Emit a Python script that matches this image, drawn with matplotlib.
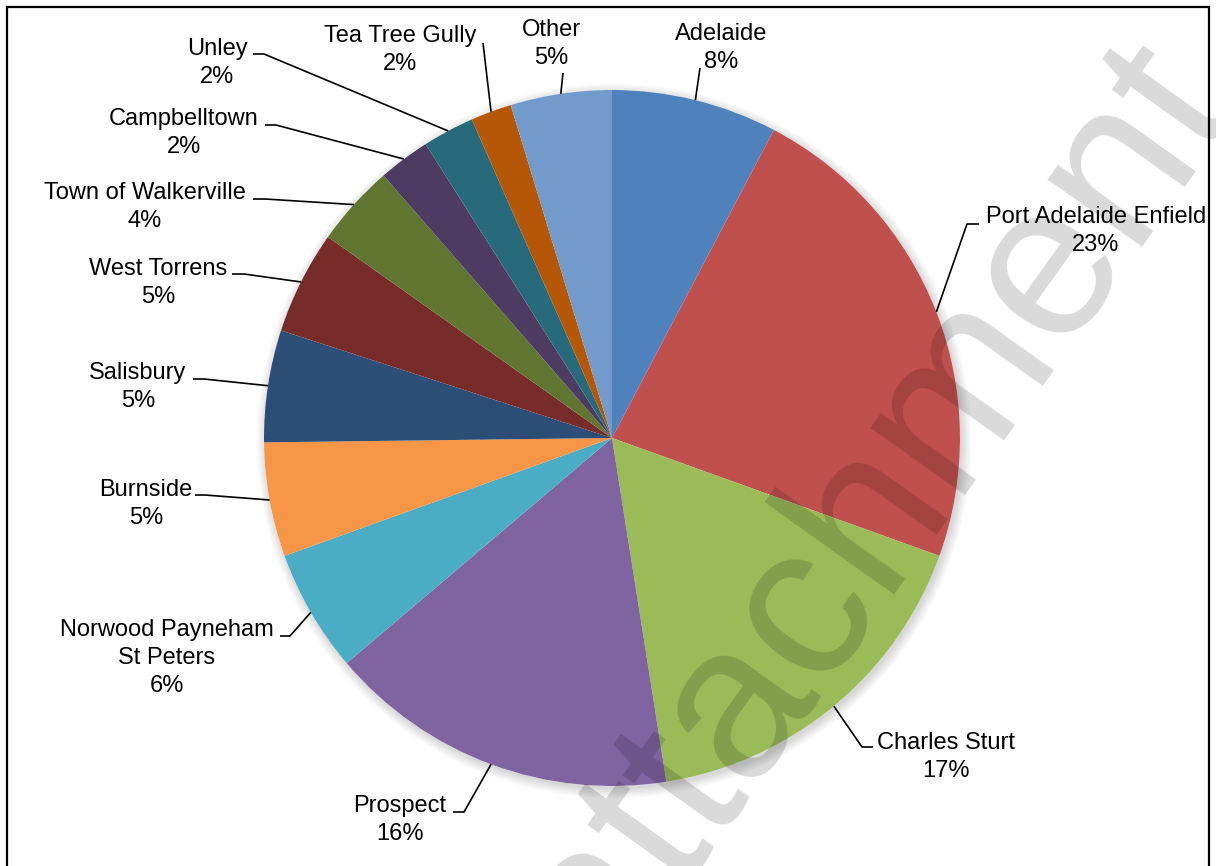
import numpy as np
import matplotlib
matplotlib.use("Agg")
import matplotlib.pyplot as plt
from matplotlib.patches import Circle, Rectangle

plt.rcParams['font.family'] = ['Liberation Sans', 'DejaVu Sans']

# share of records by council area (%)
councils = ['Adelaide', 'Port Adelaide Enfield', 'Charles Sturt', 'Prospect',
            'Norwood Payneham\nSt Peters', 'Burnside', 'Salisbury', 'West Torrens',
            'Town of Walkerville', 'Campbelltown', 'Unley', 'Tea Tree Gully', 'Other']
shares = [7.7, 22.8, 17.0, 16.3, 5.7, 5.3, 5.2, 4.8, 3.8, 2.4, 2.4, 1.9, 4.7]
colors = ['#4F81BD', '#C0504D', '#9BBB59', '#8064A2', '#4BACC6', '#F79646',
          '#2C4D75', '#772C2A', '#5F7530', '#4D3B62', '#276A7C', '#B65708', '#729ACA']

W, H = 1216, 866
cx, cy, r = 612, H - 438, 348

# label centre and leader elbow (pixel coords, y measured from the top)
label_pos = [(721, 48), (1096, 231), (946, 757), (400, 820), (167, 658), (146, 504),
             (138, 387), (158, 283), (145, 207), (184, 133), (217, 63), (400, 50), (551, 44)]
elbows = [[(700, 68)],
          [(979, 224), (967, 224)],
          [(873, 747), (862, 747)],
          [(453, 812), (464, 812)],
          [(280, 636), (290, 636)],
          [(195, 495), (205, 495)],
          [(193, 379), (204, 379)],
          [(232, 274), (244, 274)],
          [(253, 199), (265, 199)],
          [(265, 125), (276, 125)],
          [(253, 54), (264, 54)],
          [(483, 43)],
          [(563, 73)]]

fig = plt.figure(figsize=(12.16, 8.66), dpi=100)
ax = fig.add_axes([0, 0, 1, 1])

# soft shadow under the pie
for i in range(8):
    ax.add_patch(Circle((cx + 2, cy - 3), r + i * 1.3, color='black',
                        alpha=0.02, lw=0, zorder=1))
ax.add_patch(Circle((cx, cy), r, color='white', lw=0, zorder=1.5))

wedges, _ = ax.pie(shares, colors=colors, startangle=90, counterclock=False,
                   center=(cx, cy), radius=r, frame=True,
                   wedgeprops=dict(linewidth=0))
for w in wedges:
    w.set_zorder(2)
ax.set_xlim(0, W)
ax.set_ylim(0, H)
ax.set_aspect('equal')
ax.axis('off')

for w, name, val, (tx, ty), elb in zip(wedges, councils, shares, label_pos, elbows):
    mid = np.deg2rad((w.theta1 + w.theta2) / 2)
    ex, ey = cx + r * np.cos(mid), cy + r * np.sin(mid)
    xs = [p[0] for p in elb] + [ex]
    ys = [H - p[1] for p in elb] + [ey]
    ax.plot(xs, ys, color='black', lw=1.2, zorder=3, solid_capstyle='butt')
    ax.text(tx, H - ty, f"{name}\n{round(val)}%", ha='center', va='center',
            multialignment='center', fontsize=17, linespacing=1.34, zorder=4)

# watermark
ax.text(875, H - 511, 'attachment', fontsize=158, rotation=54.5, color='black',
        alpha=0.15, ha='center', va='center', rotation_mode='anchor', zorder=5)

# chart border
ax.add_patch(Rectangle((7, -10), W - 14, H - 7 + 10, fill=False, ec='black',
                       lw=1.6, zorder=6, clip_on=False))

fig.savefig('out.png', dpi=100)
